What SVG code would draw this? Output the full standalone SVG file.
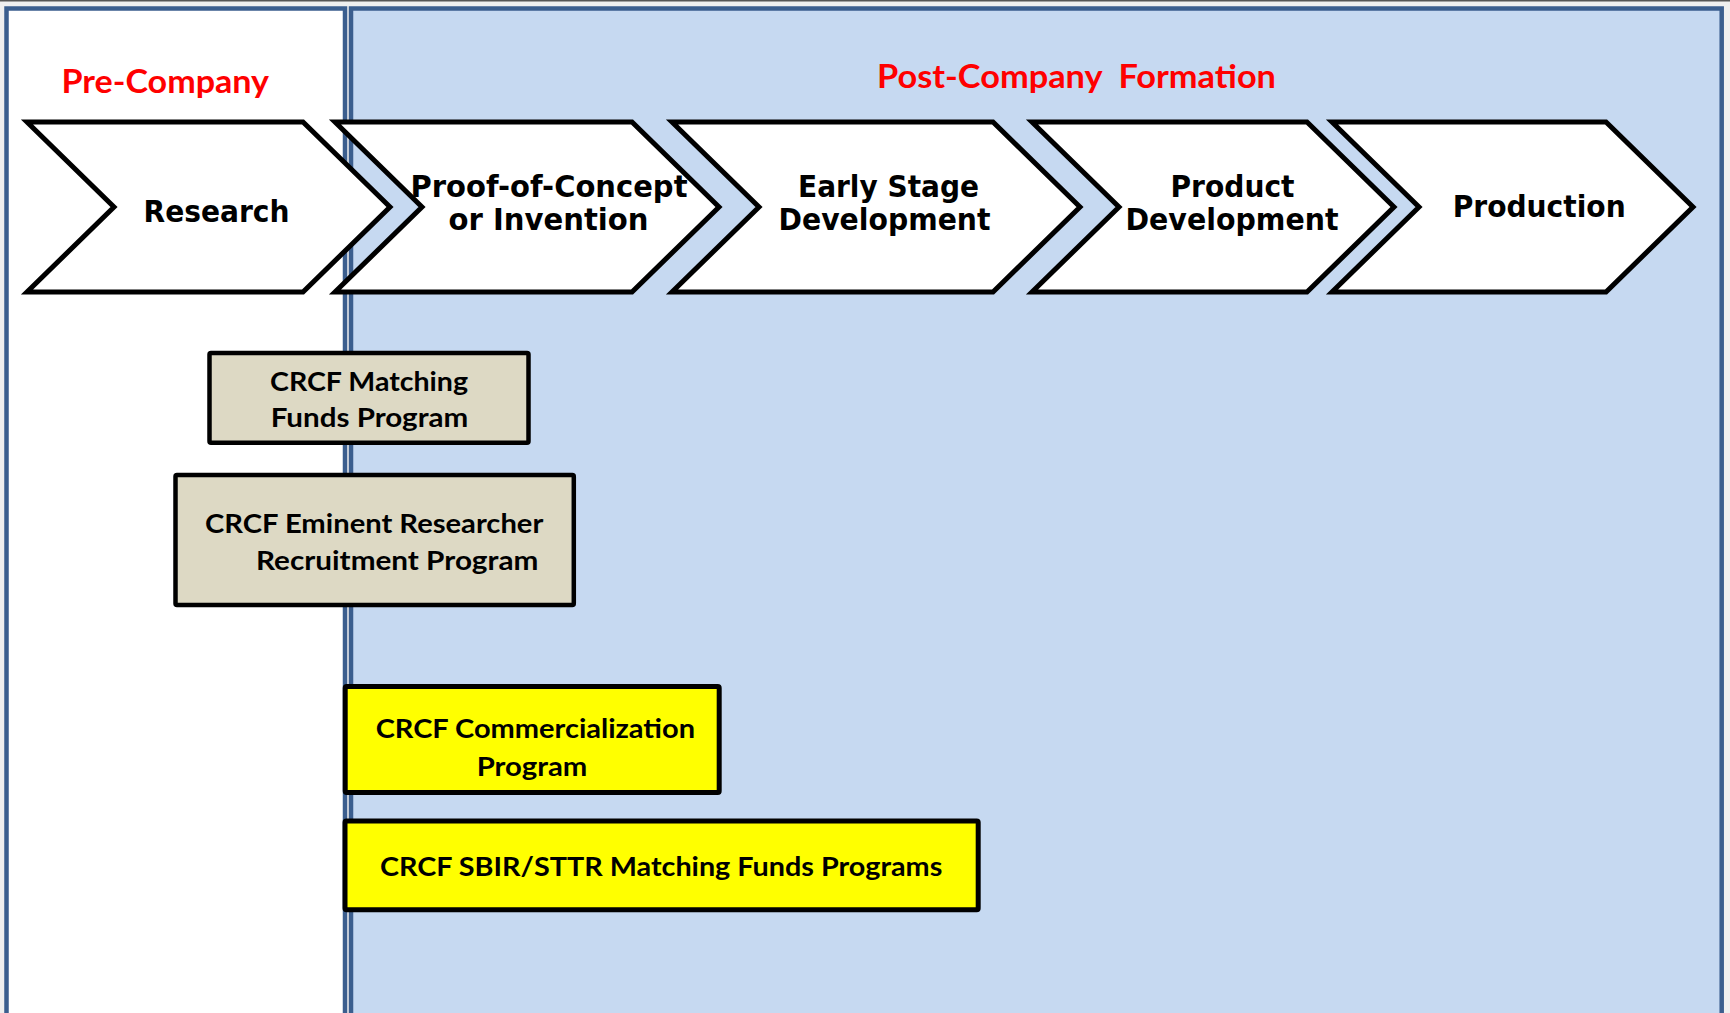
<svg xmlns="http://www.w3.org/2000/svg" width="1730" height="1013" viewBox="0 0 1730 1013">
  <style>
    .panel { stroke: #3B5E8E; stroke-width: 4.5; }
    .chev { fill: #FFFFFF; stroke: #000000; stroke-width: 5; stroke-linejoin: miter; stroke-miterlimit: 10; }
    .tan { fill: #DDD9C4; stroke: #000000; stroke-width: 4.5; }
    .yel { fill: #FFFF00; stroke: #000000; stroke-width: 5; }
    .stage { font-family: "DejaVu Sans", Verdana, sans-serif; font-weight: bold; font-size: 31px; fill: #000000; }
    .title { font-family: Lato, "Open Sans", sans-serif; font-weight: bold; font-size: 33px; fill: #FF0000; }
    .prog { font-family: Lato, "Open Sans", sans-serif; font-weight: bold; font-size: 27px; fill: #000000; }
  </style>

  <rect x="0" y="0" width="1730" height="1013" fill="#EFEFEF"/>
  <line x1="0" y1="0.75" x2="1730" y2="0.75" stroke="#555555" stroke-width="1.5"/>

  <g id="panels">
    <rect id="pre-company-panel" class="panel" x="6.5" y="8.5" width="338.5" height="1020" fill="#FFFFFF"/>
    <rect id="post-company-panel" class="panel" x="351" y="8.5" width="1370.7" height="1020" fill="#C6D9F1"/>
    <text class="title" x="61.5" y="93.3" textLength="207.5" lengthAdjust="spacingAndGlyphs">Pre-Company</text>
    <text class="title" x="877" y="87.5" textLength="399" lengthAdjust="spacingAndGlyphs" xml:space="preserve">Post-Company  Formation</text>
  </g>

  <g id="connectors"></g>

  <g id="stage-research">
    <polygon class="chev" points="27,122 303,122 390,207 303,292 27,292 114,207"/>
    <text class="stage" x="143.5" y="222" textLength="146" lengthAdjust="spacingAndGlyphs">Research</text>
  </g>
  <g id="stage-proof">
    <polygon class="chev" points="335,122 632,122 719,207 632,292 335,292 422,207"/>
    <text class="stage" x="410.5" y="196.5" textLength="277" lengthAdjust="spacingAndGlyphs">Proof-of-Concept</text>
    <text class="stage" x="448.5" y="230" textLength="200" lengthAdjust="spacingAndGlyphs">or Invention</text>
  </g>
  <g id="stage-early">
    <polygon class="chev" points="672,122 993,122 1080,207 993,292 672,292 759,207"/>
    <text class="stage" x="798" y="196.5" textLength="181" lengthAdjust="spacingAndGlyphs">Early Stage</text>
    <text class="stage" x="778.5" y="230" textLength="212" lengthAdjust="spacingAndGlyphs">Development</text>
  </g>
  <g id="stage-product">
    <polygon class="chev" points="1032,122 1307,122 1394,207 1307,292 1032,292 1119,207"/>
    <text class="stage" x="1170.5" y="196.5" textLength="124" lengthAdjust="spacingAndGlyphs">Product</text>
    <text class="stage" x="1125.5" y="230" textLength="213" lengthAdjust="spacingAndGlyphs">Development</text>
  </g>
  <g id="stage-production">
    <polygon class="chev" points="1332,122 1606,122 1693,207 1606,292 1332,292 1419,207"/>
    <text class="stage" x="1452.7" y="216.7" textLength="173" lengthAdjust="spacingAndGlyphs">Production</text>
  </g>

  <g id="prog-matching">
    <rect class="tan" x="209.5" y="353" width="319" height="89.8" rx="1.5"/>
    <text class="prog" x="270" y="390.7" textLength="198" lengthAdjust="spacingAndGlyphs">CRCF Matching</text>
    <text class="prog" x="270.7" y="426.7" textLength="197.6" lengthAdjust="spacingAndGlyphs">Funds Program</text>
  </g>
  <g id="prog-eminent">
    <rect class="tan" x="175.5" y="475" width="398.3" height="130" rx="1.5"/>
    <text class="prog" x="205" y="532.7" textLength="338.3" lengthAdjust="spacingAndGlyphs">CRCF Eminent Researcher</text>
    <text class="prog" x="256" y="570" textLength="282.3" lengthAdjust="spacingAndGlyphs">Recruitment Program</text>
  </g>
  <g id="prog-commercialization">
    <rect class="yel" x="345.2" y="686.5" width="374" height="106" rx="1.5"/>
    <text class="prog" x="375.7" y="738.3" textLength="319.3" lengthAdjust="spacingAndGlyphs">CRCF Commercialization</text>
    <text class="prog" x="476.7" y="776" textLength="110.6" lengthAdjust="spacingAndGlyphs">Program</text>
  </g>
  <g id="prog-sbir">
    <rect class="yel" x="345" y="821" width="633.2" height="88.8" rx="1.5"/>
    <text class="prog" x="380" y="875.5" textLength="562.3" lengthAdjust="spacingAndGlyphs">CRCF SBIR/STTR Matching Funds Programs</text>
  </g>
</svg>
